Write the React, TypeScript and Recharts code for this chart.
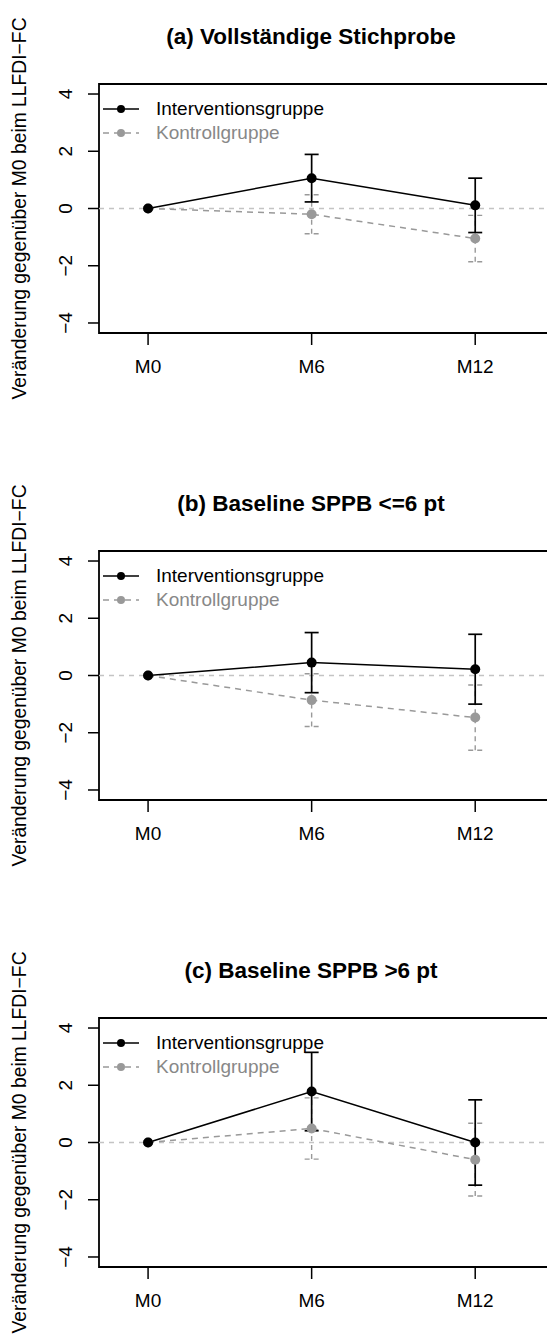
import React from 'react';
import { LineChart, Line, XAxis, YAxis, ErrorBar, ReferenceLine, ReferenceArea, Legend } from 'recharts';

const FONT = '"Liberation Sans", Arial, Helvetica, sans-serif';

// categories / ticks
const timepoints = ['M0', 'M6', 'M12'];
const timeIndex = [1, 2, 3];
const yTicks = [-4, -2, 0, 2, 4];
const seriesNames = ['Interventionsgruppe', 'Kontrollgruppe'];
const yTitle = 'Veränderung gegenüber M0 beim LLFDI−FC';

const titles = ['(a) Vollständige Stichprobe', '(b) Baseline SPPB <=6 pt', '(c) Baseline SPPB >6 pt'];

// (a) full sample
const intMeanA = [0, 1.06, 0.11];
const intErrA = [null, 0.83, 0.95];
const ctrlMeanA = [0, -0.2, -1.05];
const ctrlErrA = [null, 0.68, 0.81];

// (b) SPPB <= 6
const intMeanB = [0, 0.45, 0.22];
const intErrB = [null, 1.05, 1.22];
const ctrlMeanB = [0, -0.86, -1.47];
const ctrlErrB = [null, 0.92, 1.14];

// (c) SPPB > 6
const intMeanC = [0, 1.78, 0.0];
const intErrC = [null, 1.37, 1.49];
const ctrlMeanC = [0, 0.49, -0.6];
const ctrlErrC = [null, 1.07, 1.27];

const INT_COLOR = '#000000';
const CTRL_COLOR = '#999999';

const panels = [
  { title: titles[0], im: intMeanA, ie: intErrA, cm: ctrlMeanA, ce: ctrlErrA },
  { title: titles[1], im: intMeanB, ie: intErrB, cm: ctrlMeanB, ce: ctrlErrB },
  { title: titles[2], im: intMeanC, ie: intErrC, cm: ctrlMeanC, ce: ctrlErrC },
];

const XTick = (props: any) => {
  const { x, y, payload } = props;
  return (
    <text x={x} y={y + 28} textAnchor="middle" fontSize={19} fontFamily={FONT} fill="#000">
      {timepoints[timeIndex.indexOf(payload.value)]}
    </text>
  );
};

const YTick = (props: any) => {
  const { x, y, payload } = props;
  const tx = x - 16;
  return (
    <text x={tx} y={y} transform={`rotate(-90 ${tx} ${y})`} textAnchor="middle" fontSize={19} fontFamily={FONT} fill="#000">
      {payload.value < 0 ? '−' + Math.abs(payload.value) : String(payload.value)}
    </text>
  );
};

const YTitle = (props: any) => {
  const vb = props.viewBox || { y: 84, height: 249 };
  const cy = vb.y + vb.height / 2;
  return (
    <text x={26} y={cy} transform={`rotate(-90 26 ${cy})`} textAnchor="middle" fontSize={19.3} fontFamily={FONT} fill="#000">
      {yTitle}
    </text>
  );
};

const LegendBox = () => (
  <div style={{ fontFamily: FONT, fontSize: 19, lineHeight: '24px' }}>
    {seriesNames.map((name, i) => {
      const col = i === 0 ? INT_COLOR : CTRL_COLOR;
      return (
        <div key={name} style={{ display: 'flex', alignItems: 'center', height: 24 }}>
          <svg width={36} height={24} style={{ display: 'block' }}>
            <line x1={0} y1={12} x2={36} y2={12} stroke={col} strokeWidth={1.6} strokeDasharray={i === 0 ? undefined : '6 5'} />
            <circle cx={18} cy={12} r={4} fill={col} />
          </svg>
          <span style={{ marginLeft: 17, color: i === 0 ? '#000' : '#888' }}>{name}</span>
        </div>
      );
    })}
  </div>
);

function Panel({ p }: { p: any }) {
  const data = timeIndex.map((t, i) => ({
    t,
    int: p.im[i],
    intErr: p.ie[i],
    ctrl: p.cm[i],
    ctrlErr: p.ce[i],
  }));
  return (
    <div style={{ position: 'relative', width: 570, height: 467 }}>
      <div style={{ position: 'absolute', left: 0, width: 622, top: 24, textAlign: 'center', fontFamily: FONT, fontWeight: 'bold', fontSize: 22.5, lineHeight: '26px' }}>
        {p.title}
      </div>
      <LineChart width={570} height={467} data={data} margin={{ top: 84, right: 13, bottom: 0, left: 0 }}>
        <XAxis type="number" dataKey="t" domain={[0.7, 3.5]} ticks={timeIndex} axisLine={false} tickSize={12} tickMargin={0}
          tickLine={{ stroke: '#000', strokeWidth: 1.5 }} tick={<XTick />} height={134} interval={0} />
        <YAxis type="number" domain={[-4.35, 4.35]} ticks={yTicks} axisLine={false} tickSize={11} tickMargin={0}
          tickLine={{ stroke: '#000', strokeWidth: 1.5 }} tick={<YTick />} width={99} interval={0}
          label={{ content: <YTitle /> }} />
        <ReferenceArea x1={0.7} x2={3.5} y1={-4.35} y2={4.35} fill="none" fillOpacity={0} stroke="#000" strokeWidth={1.8} ifOverflow="visible" />
        <ReferenceLine y={0} stroke="#c4c4c4" strokeDasharray="5 5" strokeWidth={1.3} />
        <Legend layout="vertical" align="center" verticalAlign="middle" content={<LegendBox />}
          wrapperStyle={{ left: 103, top: 97, width: 'auto', height: 'auto' }} />
        <Line dataKey="ctrl" stroke={CTRL_COLOR} strokeWidth={1.5} strokeDasharray="6 5" isAnimationActive={false}
          dot={{ r: 5, fill: CTRL_COLOR, stroke: 'none' }} activeDot={false}>
          <ErrorBar dataKey="ctrlErr" width={7} stroke={CTRL_COLOR} strokeWidth={1.4} strokeDasharray="5 4" direction="y" />
        </Line>
        <Line dataKey="int" stroke={INT_COLOR} strokeWidth={1.5} isAnimationActive={false}
          dot={{ r: 5, fill: INT_COLOR, stroke: 'none' }} activeDot={false}>
          <ErrorBar dataKey="intErr" width={7} stroke={INT_COLOR} strokeWidth={1.7} direction="y" />
        </Line>
      </LineChart>
    </div>
  );
}

export default function App() {
  return (
    <div style={{ position: 'absolute', left: 0, top: 0, width: 547, height: 1342, overflow: 'hidden', background: '#fff' }}>
      {panels.map((p) => (
        <Panel key={p.title} p={p} />
      ))}
    </div>
  );
}
